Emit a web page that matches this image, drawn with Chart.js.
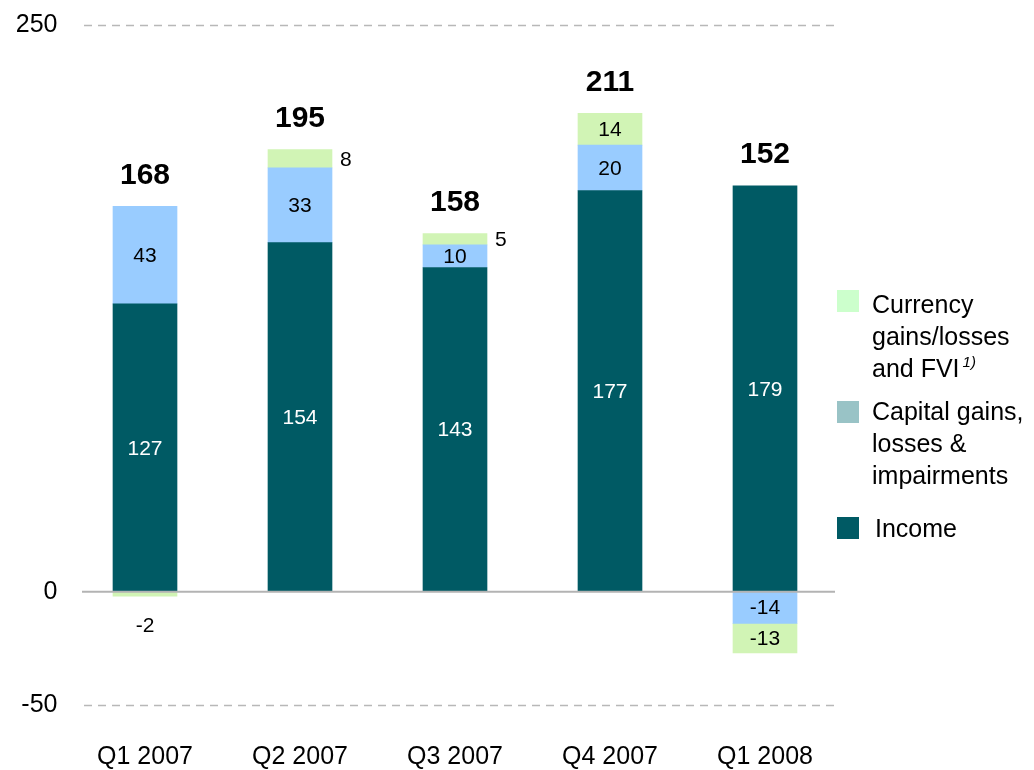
<!DOCTYPE html>
<html>
<head>
<meta charset="utf-8">
<script src="https://cdn.jsdelivr.net/npm/chart.js@4/dist/chart.umd.min.js"></script>
<style>
  html, body { margin: 0; padding: 0; background: #fff; }
  canvas { display: block; }
</style>
</head>
<body>
<canvas id="c" width="1034" height="770"></canvas>
<script>
const categories = ['Q1 2007', 'Q2 2007', 'Q3 2007', 'Q4 2007', 'Q1 2008'];
const income = [127, 154, 143, 177, 179];
const capitalGains = [43, 33, 10, 20, -14];
const currency = [-2, 8, 5, 14, -13];
const totals = [168, 195, 158, 211, 152];
const yTicks = [-50, 0, 250];

const FONT = '"Liberation Sans", Arial, Helvetica, sans-serif';
const COL_INCOME = '#005a64';
const COL_CAPITAL = '#99ccff';
const COL_CURRENCY = '#d1f4b5';

const gridPlugin = {
  id: 'grid',
  beforeDatasetsDraw(chart) {
    const ctx = chart.ctx, y = chart.scales.y;
    ctx.save();
    ctx.strokeStyle = '#b8b8b8';
    ctx.lineWidth = 1.5;
    ctx.setLineDash([8, 6]);
    [250, -50].forEach(v => {
      const py = Math.round(y.getPixelForValue(v)) + 0.5;
      ctx.beginPath(); ctx.moveTo(84, py); ctx.lineTo(835, py); ctx.stroke();
    });
    ctx.restore();
  },
  afterDatasetsDraw(chart) {
    const ctx = chart.ctx, y = chart.scales.y;
    ctx.save();
    ctx.strokeStyle = '#b3b3b3';
    ctx.lineWidth = 2;
    const py = y.getPixelForValue(0);
    ctx.beginPath(); ctx.moveTo(82, py); ctx.lineTo(835, py); ctx.stroke();
    ctx.restore();
  }
};

const labelPlugin = {
  id: 'labels',
  afterDraw(chart) {
    const ctx = chart.ctx, yS = chart.scales.y;
    ctx.save();
    ctx.textAlign = 'center';
    ctx.textBaseline = 'middle';
    chart.data.datasets.forEach((ds, di) => {
      const meta = chart.getDatasetMeta(di);
      meta.data.forEach((bar, i) => {
        const v = ds.data[i];
        const top = Math.min(bar.y, bar.base), bot = Math.max(bar.y, bar.base);
        const h = bot - top;
        ctx.font = '21px ' + FONT;
        ctx.fillStyle = di === 0 ? '#ffffff' : '#000000';
        const txt = String(v);
        if (h >= 22) {
          ctx.textAlign = 'center';
          ctx.fillText(txt, bar.x, (top + bot) / 2 + 1);
        } else if (v > 0) {
          ctx.textAlign = 'left';
          ctx.fillText(txt, bar.x + bar.width / 2 + 8, (top + bot) / 2 + 1);
        } else {
          ctx.textAlign = 'center';
          ctx.fillText(txt, bar.x, bot + 30);
        }
      });
    });
    // totals
    ctx.font = 'bold 30px ' + FONT;
    ctx.fillStyle = '#000';
    ctx.textAlign = 'center';
    const x = chart.scales.x;
    totals.forEach((t, i) => {
      const pos = [income[i], capitalGains[i], currency[i]].filter(v => v > 0).reduce((a, b) => a + b, 0);
      const py = yS.getPixelForValue(pos);
      ctx.fillText(String(t), x.getPixelForValue(i), py - 31);
    });
    // legend
    const items = [
      { color: '#ccffcc', sy: 290, lines: [['Currency', 313], ['gains/losses', 345], ['and FVI', 377]], sup: true, tx: 872 },
      { color: '#99c3c6', sy: 401, lines: [['Capital gains,', 420], ['losses &', 452], ['impairments', 484]], tx: 872 },
      { color: COL_INCOME, sy: 517, lines: [['Income', 537]], tx: 875 }
    ];
    ctx.textBaseline = 'alphabetic';
    ctx.textAlign = 'left';
    items.forEach(it => {
      ctx.fillStyle = it.color;
      ctx.fillRect(837, it.sy, 22, 22);
      ctx.fillStyle = '#000';
      ctx.font = '25px ' + FONT;
      it.lines.forEach(([t, by]) => ctx.fillText(t, it.tx, by));
      if (it.sup) {
        const last = it.lines[it.lines.length - 1];
        const w = ctx.measureText(last[0]).width;
        ctx.font = 'italic 15px ' + FONT;
        ctx.fillText('1)', it.tx + w + 3, last[1] - 10);
      }
    });
    ctx.restore();
  }
};

new Chart(document.getElementById('c'), {
  type: 'bar',
  data: {
    labels: categories,
    datasets: [
      { label: 'Income', data: income, backgroundColor: COL_INCOME, barThickness: 64, borderWidth: 0 },
      { label: 'Capital gains, losses & impairments', data: capitalGains, backgroundColor: COL_CAPITAL, barThickness: 64, borderWidth: 0 },
      { label: 'Currency gains/losses and FVI', data: currency, backgroundColor: COL_CURRENCY, barThickness: 64, borderWidth: 0 }
    ]
  },
  options: {
    responsive: false,
    animation: false,
    layout: { padding: { top: 22, right: 191.5, left: 0, bottom: 0 } },
    plugins: { legend: { display: false }, tooltip: { enabled: false } },
    scales: {
      x: {
        stacked: true,
        offset: true,
        grid: { display: false, drawTicks: false },
        border: { display: false },
        ticks: { font: { family: FONT, size: 25 }, color: '#000', padding: 37, maxRotation: 0 },
        afterFit(s) { s.height = 65; }
      },
      y: {
        stacked: true,
        min: -50,
        max: 250,
        grid: { display: false, drawTicks: false },
        border: { display: false },
        afterBuildTicks(s) { s.ticks = yTicks.map(v => ({ value: v })); },
        ticks: { font: { family: FONT, size: 25 }, color: '#000', padding: 10 },
        afterFit(s) { s.width = 67.5; }
      }
    }
  },
  plugins: [gridPlugin, labelPlugin]
});
</script>
</body>
</html>
